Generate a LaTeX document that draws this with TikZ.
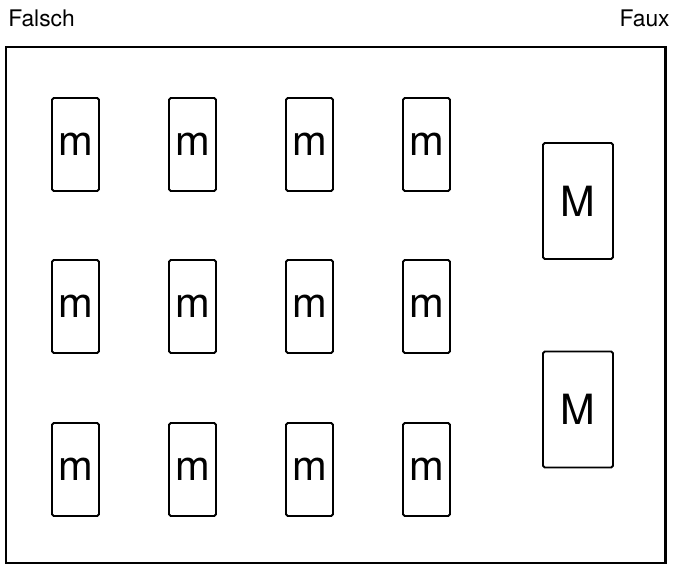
\documentclass[tikz,border=0pt]{standalone}
\usepackage{fontspec}
\setmainfont{TeX Gyre Heros}
\usetikzlibrary{positioning}

\begin{document}
\begin{tikzpicture}[x=0.02cm, y=-0.02cm,
  smallbox/.style={rectangle, rounded corners=1pt, draw, line width=1.1pt, inner sep=0pt,
    minimum width=0.94cm, minimum height=1.86cm, font=\fontsize{23.7}{28}\selectfont},
  bigbox/.style={rectangle, rounded corners=1pt, draw, line width=1.1pt, inner sep=0pt,
    minimum width=1.40cm, minimum height=2.32cm, font=\fontsize{23.7}{28}\selectfont},
  caption/.style={inner sep=0pt, font=\fontsize{13}{15}\selectfont}]
  \useasboundingbox (0,0) rectangle (673,564);
  % labels
  \node[caption, anchor=base west] (falsch) at (8,27) {Falsch};
  \node[caption, anchor=base east] (faux) at (670,27) {Faux};
  % outer frame
  \draw[line width=1.7pt] (6,47) rectangle (665,563);
  % small boxes
  \foreach \r/\y in {1/144.5, 2/306.5, 3/469.5}
    \foreach \c/\x in {1/75.5, 2/192.5, 3/309.5, 4/426.5}
      \node[smallbox] (m-\r-\c) at (\x,\y) {m};
  % big boxes
  \node[bigbox] (M-1) at (578,201) {M};
  \node[bigbox] (M-2) at (578,409.5) {M};
\end{tikzpicture}
\end{document}
